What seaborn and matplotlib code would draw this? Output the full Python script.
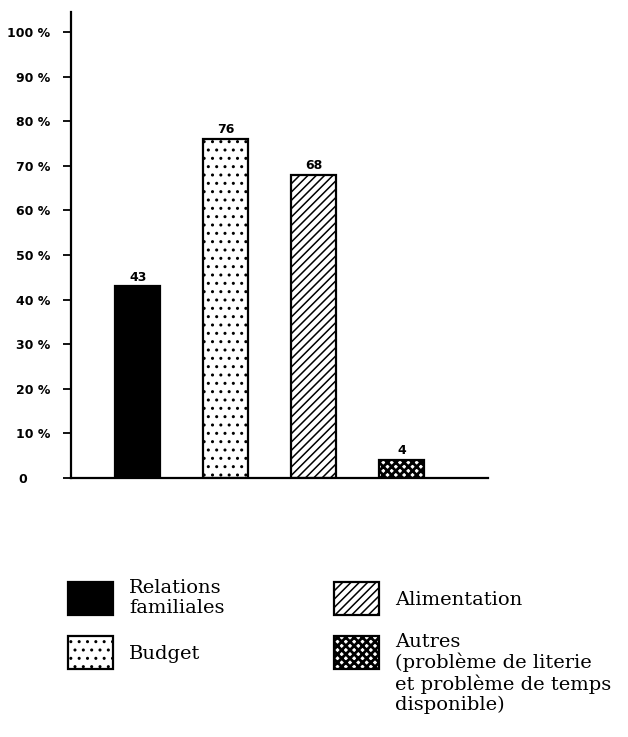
import matplotlib
matplotlib.use("Agg")
import matplotlib.pyplot as plt
import matplotlib.transforms as mtransforms
import seaborn as sns
import pandas as pd
from matplotlib.patches import Rectangle

# data
categories = ["Relations familiales", "Budget", "Alimentation", "Autres"]
values = [43, 76, 68, 4]
legend_labels = ["Relations\nfamiliales", "Budget", "Alimentation",
                 "Autres\n(problème de literie\net problème de temps\ndisponible)"]
hatches = ["", "..", "////", "xxxx"]
hatch_lw = [1.0, 1.0, 1.1, 2.0]
facecolors = ["black", "white", "white", "white"]
yticks = [0, 10, 20, 30, 40, 50, 60, 70, 80, 90, 100]
ytick_labels = ["0"] + [f"{t} %" for t in yticks[1:]]

sns.set_style("white", {"axes.edgecolor": "black", "text.color": "black",
                        "ytick.color": "black", "xtick.color": "black"})
plt.rcParams["hatch.linewidth"] = 1.1


def set_hlw(p, lw):
    if hasattr(p, "set_hatch_linewidth"):
        p.set_hatch_linewidth(lw)


df = pd.DataFrame({"cat": categories, "val": values})

W, H = 628, 737
fig = plt.figure(figsize=(W / 100, H / 100), dpi=100)
ax = fig.add_axes([71 / W, 1 - 478 / H, (488 - 71) / W, (478 - 12) / H])

sns.barplot(data=df, x="cat", y="val", ax=ax, width=0.51, color="white",
            edgecolor="black", linewidth=1.6)
for bar, h, fc, lw in zip(ax.patches, hatches, facecolors, hatch_lw):
    bar.set_facecolor(fc)
    bar.set_hatch(h)
    set_hlw(bar, lw)

for bar, v in zip(ax.patches, values):
    ax.text(bar.get_x() + bar.get_width() / 2, v + 0.6, str(v),
            ha="center", va="bottom", fontsize=9, fontweight="bold", color="black")

ax.set_xlim(-0.76, 3.98)
ax.set_ylim(0, 104.5)
ax.set_yticks(yticks)
ax.set_yticklabels(ytick_labels, fontsize=9, fontweight="bold", color="black")
ax.set_xticks([])
ax.set_xlabel("")
ax.set_ylabel("")
for s in ["top", "right"]:
    ax.spines[s].set_visible(False)
ax.spines["left"].set_linewidth(1.6)
ax.spines["bottom"].set_linewidth(1.6)
ax.tick_params(axis="y", direction="out", length=6, width=1.3, pad=9, left=True,
               color="black")

# the "0" label sits further left in the reference
zero_lab = ax.get_yticklabels()[0]
zero_lab.set_transform(zero_lab.get_transform() +
                       mtransforms.ScaledTranslation(-23 / 100, 0, fig.dpi_scale_trans))

# legend drawn by hand: two columns
hx = [68, 68, 334, 334]
hy = [582, 636, 582, 636]
for x0, y0, fc, h, lw, lab in zip(hx, hy, facecolors, hatches, hatch_lw, legend_labels):
    r = Rectangle((x0 / W, 1 - (y0 + 33) / H), 45 / W, 33 / H,
                  transform=fig.transFigure, facecolor=fc,
                  edgecolor="black", hatch=h, linewidth=1.6)
    set_hlw(r, lw)
    fig.add_artist(r)
    n = lab.count("\n") + 1
    if n == 1:
        fig.text((x0 + 61) / W, 1 - (y0 + 18) / H, lab, ha="left", va="center",
                 family="DejaVu Serif", fontsize=14, color="black")
    else:
        fig.text((x0 + 61) / W, 1 - (y0 - 3) / H, lab, ha="left", va="top",
                 family="DejaVu Serif", fontsize=14, linespacing=1.12, color="black")

fig.savefig("out.png", dpi=100)
